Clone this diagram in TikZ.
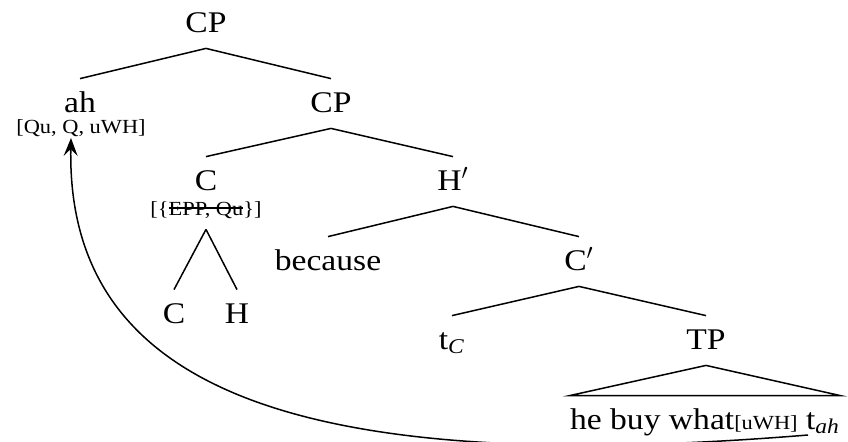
\documentclass[tikz,border=0pt]{standalone}
\usepackage{fontspec}
\setmainfont{Liberation Serif}[FakeStretch=1.12]
\usetikzlibrary{arrows.meta,calc}
\newcommand\strikeout[1]{\setbox0\hbox{#1}\rlap{\raisebox{0.32em}{\rule{\wd0}{0.6pt}}}\box0}

\begin{document}
\begin{tikzpicture}[x=0.5pt,y=-0.5pt,>={Stealth[length=9pt,width=7pt,inset=3.5pt]},
  cat/.style={font=\fontsize{15}{18}\selectfont,anchor=base,inner xsep=1pt,
    inner ysep=6.5pt,text height=10pt,text depth=1.5pt},
  feat/.style={font=\fontsize{10}{12}\selectfont,anchor=base,inner xsep=1pt,
    inner ysep=5pt,text height=7pt,text depth=2pt},
  branch/.style={line width=0.75pt}]
  \useasboundingbox (0,0) rectangle (848,441);
  % categories and features
  \node[cat] (cp) at (206,32) {CP};
  \node[cat] (ah) at (80,112) {ah};
  \node[feat] (ahf) at (81,133) {[Qu, Q, uWH]};
  \node[cat] (cpr) at (331,112) {CP};
  \node[cat] (c) at (206,190) {C};
  \node[feat] (cf) at (206,215) {[\{\strikeout{EPP, Qu}\}]};
  \node[cat] (hbar) at (453,190) {H$'$};
  \node[cat] (cc) at (174,323) {C};
  \node[cat] (hc) at (237,323) {H};
  \node[cat] (bec) at (328,270) {because};
  \node[cat] (cbar) at (579,270) {C$'$};
  \node[cat] (tc) at (452,349) {t\textsubscript{\textit{C}}};
  \node[cat] (tp) at (706,349) {TP};
  \node[cat,inner xsep=0pt] (sent) at (705,429)
    {he buy what{\fontsize{10}{12}\selectfont[uWH]} t\textsubscript{\textit{ah}}};
  % branches
  \draw[branch] (cp.south) -- (ah.north);
  \draw[branch] (cp.south) -- (cpr.north);
  \draw[branch] (cpr.south) -- (c.north);
  \draw[branch] (cpr.south) -- (hbar.north);
  \draw[branch] (cf.south) -- (cc.north);
  \draw[branch] (cf.south) -- (hc.north);
  \draw[branch] (hbar.south) -- (bec.north);
  \draw[branch] (hbar.south) -- (cbar.north);
  \draw[branch] (cbar.south) -- (tc.north);
  \draw[branch] (cbar.south) -- (tp.north);
  \draw[branch] (tp.south) -- (sent.north west) -- (sent.north east) -- cycle;
  % movement of ah
  \coordinate (trace) at (808,435);
  \coordinate (landing) at (71,138);
  \draw[branch,->] (trace) .. controls (330,474) and (66,405) .. (landing);
\end{tikzpicture}
\end{document}
